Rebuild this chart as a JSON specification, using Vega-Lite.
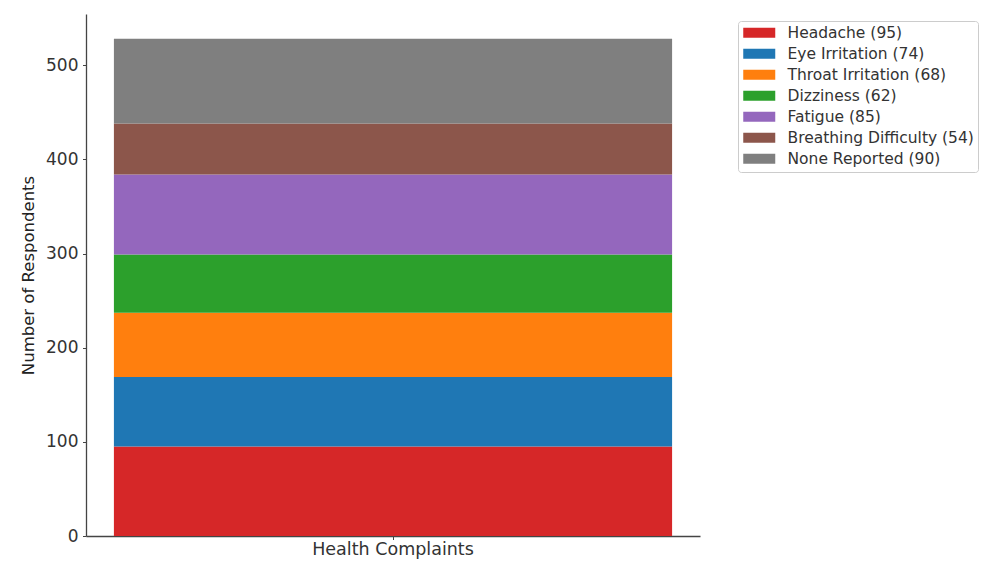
{
  "$schema": "https://vega.github.io/schema/vega-lite/v6.json",
  "autosize": "none",
  "padding": {"left": 86, "top": 14, "right": 281, "bottom": 27},
  "width": 614,
  "height": 522,
  "background": "white",
  "data": {
    "values": [
      {"group": "Health Complaints", "complaint": "Headache", "entry": "Headache (95)", "respondents": 95, "rank": 1},
      {"group": "Health Complaints", "complaint": "Eye Irritation", "entry": "Eye Irritation (74)", "respondents": 74, "rank": 2},
      {"group": "Health Complaints", "complaint": "Throat Irritation", "entry": "Throat Irritation (68)", "respondents": 68, "rank": 3},
      {"group": "Health Complaints", "complaint": "Dizziness", "entry": "Dizziness (62)", "respondents": 62, "rank": 4},
      {"group": "Health Complaints", "complaint": "Fatigue", "entry": "Fatigue (85)", "respondents": 85, "rank": 5},
      {"group": "Health Complaints", "complaint": "Breathing Difficulty", "entry": "Breathing Difficulty (54)", "respondents": 54, "rank": 6},
      {"group": "Health Complaints", "complaint": "None Reported", "entry": "None Reported (90)", "respondents": 90, "rank": 7}
    ]
  },
  "mark": {"type": "bar", "stroke": null},
  "encoding": {
    "x": {
      "field": "group",
      "type": "nominal",
      "scale": {"paddingInner": 0.2, "paddingOuter": 0.04},
      "axis": {
        "title": null,
        "labelAngle": 0,
        "labelFontSize": 17.5,
        "labelPadding": 1,
        "tickSize": 3.5
      }
    },
    "y": {
      "field": "respondents",
      "type": "quantitative",
      "stack": "zero",
      "scale": {"domain": [0, 554.4], "nice": false, "zero": true},
      "axis": {
        "title": "Number of Respondents",
        "values": [0, 100, 200, 300, 400, 500],
        "labelFontSize": 17,
        "labelPadding": 4.5,
        "tickSize": 3.5,
        "titleFontSize": 16.5,
        "titlePadding": 9,
        "grid": false
      }
    },
    "order": {"field": "rank", "type": "quantitative", "sort": "ascending"},
    "color": {
      "field": "entry",
      "type": "nominal",
      "sort": null,
      "scale": {
        "domain": ["Headache (95)", "Eye Irritation (74)", "Throat Irritation (68)", "Dizziness (62)", "Fatigue (85)", "Breathing Difficulty (54)", "None Reported (90)"],
        "range": ["#d62728", "#1f77b4", "#ff7f0e", "#2ca02c", "#9467bd", "#8c564b", "#7f7f7f"]
      },
      "legend": {
        "title": null,
        "orient": "none",
        "legendX": 652,
        "legendY": 7,
        "symbolType": "M-0.867,-0.667H3.4V0.667H-0.867Z",
        "symbolSize": 225,
        "symbolStrokeWidth": 0,
        "labelFontSize": 15.5,
        "labelOffset": 30,
        "labelLimit": 400,
        "rowPadding": 4,
        "padding": 4,
        "fillColor": "white",
        "strokeColor": "#cccccc",
        "cornerRadius": 3,
        "labelColor": "#333333"
      }
    }
  },
  "config": {
    "font": "DejaVu Sans",
    "view": {"stroke": null},
    "axis": {
      "domainColor": "#444444",
      "domainWidth": 1.3,
      "tickColor": "#444444",
      "tickWidth": 1,
      "labelColor": "#333333",
      "titleColor": "#222222",
      "titleFontWeight": "normal",
      "labelFont": "DejaVu Sans",
      "titleFont": "DejaVu Sans"
    },
    "legend": {"labelFont": "DejaVu Sans"}
  }
}
